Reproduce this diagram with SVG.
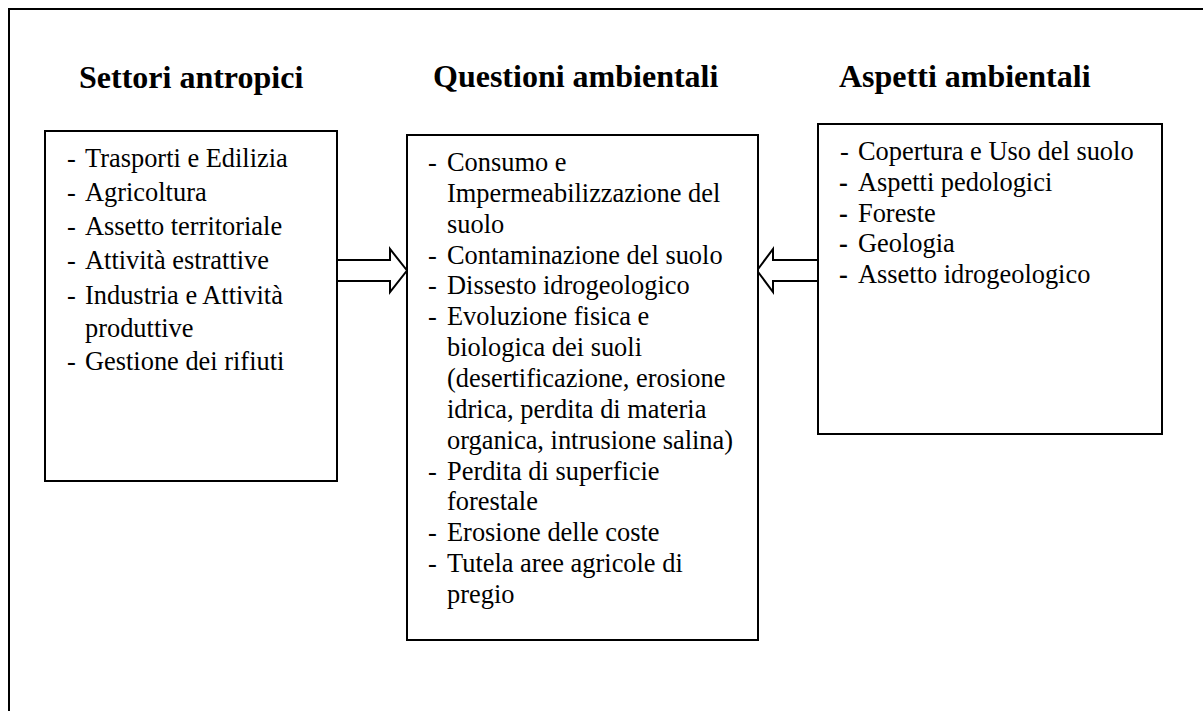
<svg xmlns="http://www.w3.org/2000/svg" width="1203" height="711" viewBox="0 0 1203 711">
<style>
.title{font-family:"Liberation Serif","Times New Roman",serif;font-weight:bold;font-size:32px;fill:#000}
text.t{font-family:"Liberation Serif","Times New Roman",serif;font-size:26.4px;fill:#000}
text.b{font-weight:bold}
.box{fill:#fff;stroke:#000;stroke-width:2}
.arr{fill:#fff;stroke:#000;stroke-width:2;stroke-linejoin:miter}
</style>
<rect width="1203" height="711" fill="#fff"/>
<path d="M9 720 V9 H1215" fill="none" stroke="#000" stroke-width="2"/>
<text class="title" x="79" y="88">Settori antropici</text>
<text class="title" x="433" y="87">Questioni ambientali</text>
<text class="title" x="839" y="87">Aspetti ambientali</text>
<g id="connectors">
<polygon class="arr" points="337,260 390,260 390,249 407,270.5 390,292 390,281 337,281"/>
<polygon class="arr" points="818,260 773,260 773,249 757,270.5 773,292 773,281 818,281"/>
</g>
<g id="settori" font-family="'Liberation Serif','Times New Roman',serif" font-size="26.4">
<rect class="box" x="45" y="131" width="292" height="350"/>
<text class="t" x="67" y="167">-</text><text class="t" x="85" y="167">Trasporti e Edilizia</text>
<text class="t" x="67" y="201">-</text><text class="t" x="85" y="201">Agricoltura</text>
<text class="t" x="67" y="235">-</text><text class="t" x="85" y="235">Assetto territoriale</text>
<text class="t" x="67" y="269">-</text><text class="t" x="85" y="269">Attività estrattive</text>
<text class="t" x="67" y="304">-</text><text class="t" x="85" y="304">Industria e Attività</text>
<text class="t" x="85" y="337">produttive</text>
<text class="t" x="67" y="370">-</text><text class="t" x="85" y="370">Gestione dei rifiuti</text>
</g>
<g id="questioni" font-family="'Liberation Serif','Times New Roman',serif" font-size="26.4">
<rect class="box" x="407" y="135" width="351" height="505"/>
<text class="t" x="428" y="171">-</text><text class="t" x="447" y="171">Consumo e</text>
<text class="t" x="447" y="202">Impermeabilizzazione del</text>
<text class="t" x="447" y="233">suolo</text>
<text class="t" x="428" y="264">-</text><text class="t" x="447" y="264">Contaminazione del suolo</text>
<text class="t" x="428" y="294">-</text><text class="t" x="447" y="294">Dissesto idrogeologico</text>
<text class="t" x="428" y="325">-</text><text class="t" x="447" y="325">Evoluzione fisica e</text>
<text class="t" x="447" y="356">biologica dei suoli</text>
<text class="t" x="447" y="387">(desertificazione, erosione</text>
<text class="t" x="447" y="418">idrica, perdita di materia</text>
<text class="t" x="447" y="449">organica, intrusione salina)</text>
<text class="t" x="428" y="480">-</text><text class="t" x="447" y="480">Perdita di superficie</text>
<text class="t" x="447" y="510">forestale</text>
<text class="t" x="428" y="541">-</text><text class="t" x="447" y="541">Erosione delle coste</text>
<text class="t" x="428" y="572">-</text><text class="t" x="447" y="572">Tutela aree agricole di</text>
<text class="t" x="447" y="603">pregio</text>
</g>
<g id="aspetti" font-family="'Liberation Serif','Times New Roman',serif" font-size="26.4">
<rect class="box" x="818" y="124" width="344" height="310"/>
<text class="t" x="840" y="160">-</text><text class="t" x="858" y="160">Copertura e Uso del suolo</text>
<text class="t b" x="839" y="191">-</text><text class="t" x="858" y="191">Aspetti pedologici</text>
<text class="t b" x="839" y="222">-</text><text class="t" x="858" y="222">Foreste</text>
<text class="t b" x="839" y="252">-</text><text class="t" x="858" y="252">Geologia</text>
<text class="t b" x="839" y="283">-</text><text class="t" x="858" y="283">Assetto idrogeologico</text>
</g>
</svg>
